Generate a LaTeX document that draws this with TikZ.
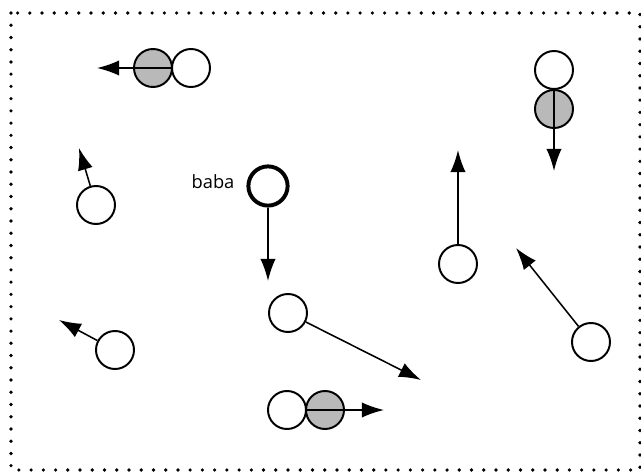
\documentclass[tikz,border=0pt]{standalone}
\usepackage{fontspec}
\setmainfont{Open Sans}
\usetikzlibrary{arrows.meta}

\begin{document}
\begin{tikzpicture}[x=0.025cm,y=-0.025cm,
	ball/.style={circle,draw,line width=1.4pt,minimum size=0.95cm,inner sep=0pt,fill=white},
	hit/.style={ball,fill=gray!55},
	move/.style={-{Latex[length=0.55cm,width=0.38cm]},line width=1.1pt}]

		\useasboundingbox (0,0) rectangle (641,474);
		% dotted frame round the box
		\draw[line width=2.6pt,line cap=round,dash pattern=on 0pt off 8.7pt] (11,13) rectangle (640,470);

		% pairs: white ball next to a grey one, the grey one moves away
		\node[ball] (w1) at (191,68){};
		\node[hit] (g1) at (153,68){};
		\coordinate (t1) at (97,68);
		\node[ball] (w2) at (554,70){};
		\node[hit] (g2) at (554,109){};
		\coordinate (t2) at (554,171);
		\node[ball] (w9) at (287,410){};
		\node[hit] (g9) at (325,410){};
		\coordinate (t9) at (384,410);

		% the marked ball
		\node[ball,line width=2.8pt,minimum size=0.98cm] (baba) at (268,186){};
		\node[font=\fontsize{13}{15}\selectfont] (babatxt) at (213,182){baba};
		\coordinate (t3) at (268,281);

		% single balls
		\node[ball] (b4) at (96,205){};
		\coordinate (t4) at (79,148);
		\node[ball] (b5) at (458,264){};
		\coordinate (t5) at (458,150);
		\node[ball] (b6) at (288,313){};
		\coordinate (t6) at (421,380);
		\node[ball] (b7) at (591,342){};
		\coordinate (t7) at (516,248);
		\node[ball] (b8) at (115,350){};
		\coordinate (t8) at (59,320);

		\path[draw,line width=1.1pt]
		(g1.east) edge[move] (t1)
		(g2.north) edge[move] (t2)
		(g9.west) edge[move] (t9)
		(baba) edge[move] (t3)
		% every ball gets its own arrow
		(b4) edge[move] (t4)
		(b5) edge[move] (t5)
		(b6) edge[move] (t6)
		(b7) edge[move] (t7)
		(b8) edge[move] (t8)
		;

	\end{tikzpicture}
\end{document}
